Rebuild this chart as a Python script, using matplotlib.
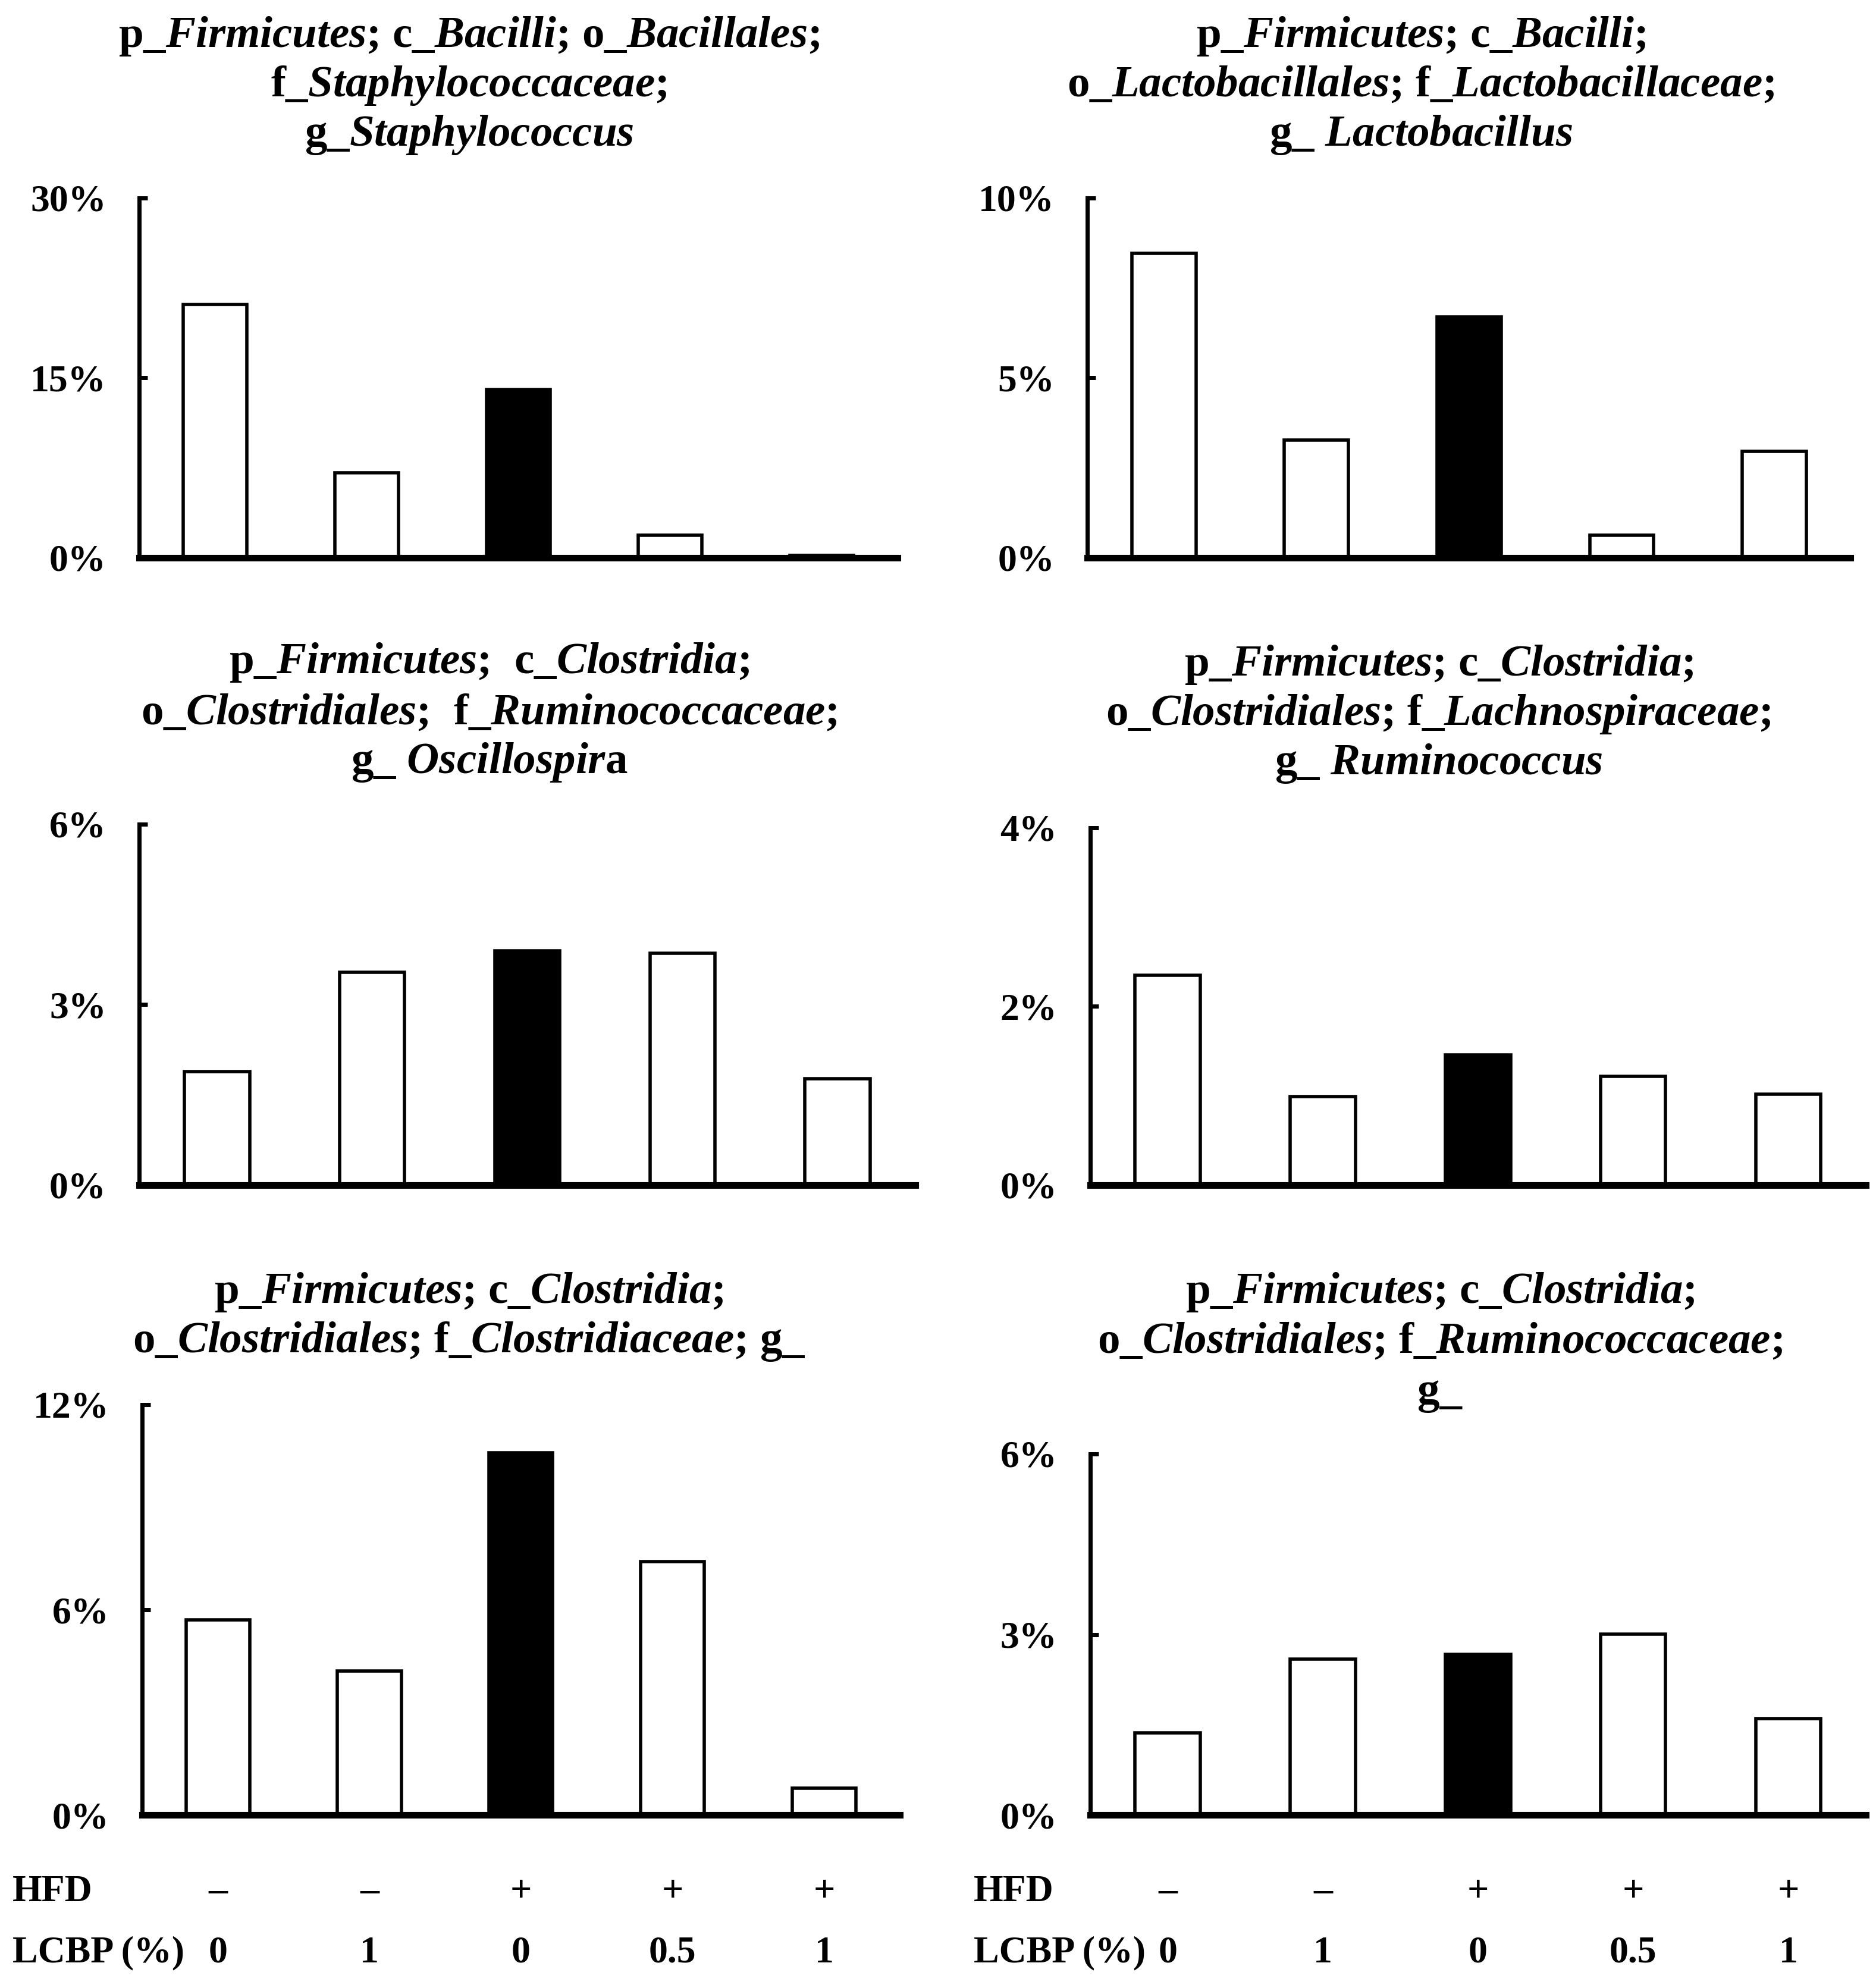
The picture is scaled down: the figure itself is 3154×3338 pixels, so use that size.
import matplotlib
matplotlib.use("Agg")
import matplotlib.pyplot as plt
from matplotlib import transforms

plt.rcParams["font.family"] = "Liberation Serif"
plt.rcParams["font.weight"] = "bold"
plt.rcParams["mathtext.fontset"] = "custom"
plt.rcParams["mathtext.it"] = "Liberation Serif:italic:bold"
plt.rcParams["mathtext.rm"] = "Liberation Serif:bold"

# data
hfd = ["\u2013", "\u2013", "+", "+", "+"]
lcbp = ["0", "1", "0", "0.5", "1"]

staph = [21.1, 7.1, 14.0, 1.9, 0.2]
lacto = [8.45, 3.27, 6.69, 0.63, 2.96]
oscillo = [1.89, 3.54, 3.89, 3.85, 1.77]
rumino = [2.35, 0.99, 1.46, 1.22, 1.02]
clostri = [5.70, 4.22, 10.59, 7.41, 0.78]
rumino_fam = [1.37, 2.59, 2.67, 3.01, 1.60]

ymaxs = [30, 10, 6, 4, 12, 6]
yticks = [[0, 15, 30], [0, 5, 10], [0, 3, 6], [0, 2, 4], [0, 6, 12], [0, 3, 6]]

titles = [
    [r"p_$\mathit{Firmicutes}$; c_$\mathit{Bacilli}$; o_$\mathit{Bacillales}$;",
     r"f_$\mathit{Staphylococcaceae}$;",
     r"g_$\mathit{Staphylococcus}$"],
    [r"p_$\mathit{Firmicutes}$; c_$\mathit{Bacilli}$;",
     r"o_$\mathit{Lactobacillales}$; f_$\mathit{Lactobacillaceae}$;",
     r"g_ $\mathit{Lactobacillus}$"],
    [r"p_$\mathit{Firmicutes}$;  c_$\mathit{Clostridia}$;",
     r"o_$\mathit{Clostridiales}$;  f_$\mathit{Ruminococcaceae}$;",
     r"g_ $\mathit{Oscillospir}$a"],
    [r"p_$\mathit{Firmicutes}$; c_$\mathit{Clostridia}$;",
     r"o_$\mathit{Clostridiales}$; f_$\mathit{Lachnospiraceae}$;",
     r"g_ $\mathit{Ruminococcus}$"],
    [r"p_$\mathit{Firmicutes}$; c_$\mathit{Clostridia}$;",
     r"o_$\mathit{Clostridiales}$; f_$\mathit{Clostridiaceae}$; g_"],
    [r"p_$\mathit{Firmicutes}$; c_$\mathit{Clostridia}$;",
     r"o_$\mathit{Clostridiales}$; f_$\mathit{Ruminococcaceae}$;",
     r"g_"],
]

series = [staph, lacto, oscillo, rumino, clostri, rumino_fam]

# layout in reference pixels (1480 x 1566 preview)
W, H = 1480.0, 1566.0
boxes = [(110, 708, 156, 440), (858, 1460, 156, 440),
         (110, 722, 650, 935), (860, 1472, 653, 935),
         (112, 710, 1108, 1432), (860, 1472, 1147, 1432)]
title_x = [370, 1121, 386, 1135, 370, 1136]
title_y = [[37, 76, 115], [37, 76, 115], [531, 571, 610],
           [533, 572, 611], [1028, 1067], [1028, 1067, 1107]]

fs = 46
title_fs = 54
fig = plt.figure(figsize=(31.54, 33.38), dpi=100)

axes = []
for i, vals in enumerate(series):
    l, r, t, b = boxes[i]
    ax = fig.add_axes([l / W, 1 - b / H, (r - l) / W, (b - t) / H])
    colors = ["white"] * 5
    colors[2] = "black"
    ax.bar(range(5), vals, width=0.42, color=colors, edgecolor="black", linewidth=4)
    ax.set_xlim(-0.5, 4.5)
    ax.set_ylim(0, ymaxs[i])
    ax.set_yticks(yticks[i])
    ax.set_yticklabels(["%d%%" % v for v in yticks[i]], fontsize=fs, fontweight="bold")
    ax.set_xticks([])
    for s in ["top", "right"]:
        ax.spines[s].set_visible(False)
    ax.spines["left"].set_linewidth(5)
    ax.spines["bottom"].set_linewidth(8)
    ax.tick_params(axis="y", direction="in", length=10, width=5, pad=40)
    for line, yy in zip(titles[i], title_y[i]):
        fig.text(title_x[i] / W, 1 - yy / H, line, ha="center", va="baseline",
                 fontsize=title_fs, fontweight="bold")
    axes.append(ax)

# treatment rows under the bottom panels
for ax, lx in [(axes[4], 10), (axes[5], 768)]:
    fig.text(lx / W, 1 - 1500 / H, "HFD", ha="left", va="baseline", fontsize=fs, fontweight="bold")
    fig.text(lx / W, 1 - 1548 / H, "LCBP (%)", ha="left", va="baseline", fontsize=fs, fontweight="bold")
    tr = transforms.blended_transform_factory(ax.transData, fig.transFigure)
    for k in range(5):
        ax.text(k, 1 - 1500 / H, hfd[k], transform=tr, ha="center", va="baseline",
                fontsize=fs, fontweight="bold")
        ax.text(k, 1 - 1548 / H, lcbp[k], transform=tr, ha="center", va="baseline",
                fontsize=fs, fontweight="bold")

fig.savefig("out.png", dpi=100)
